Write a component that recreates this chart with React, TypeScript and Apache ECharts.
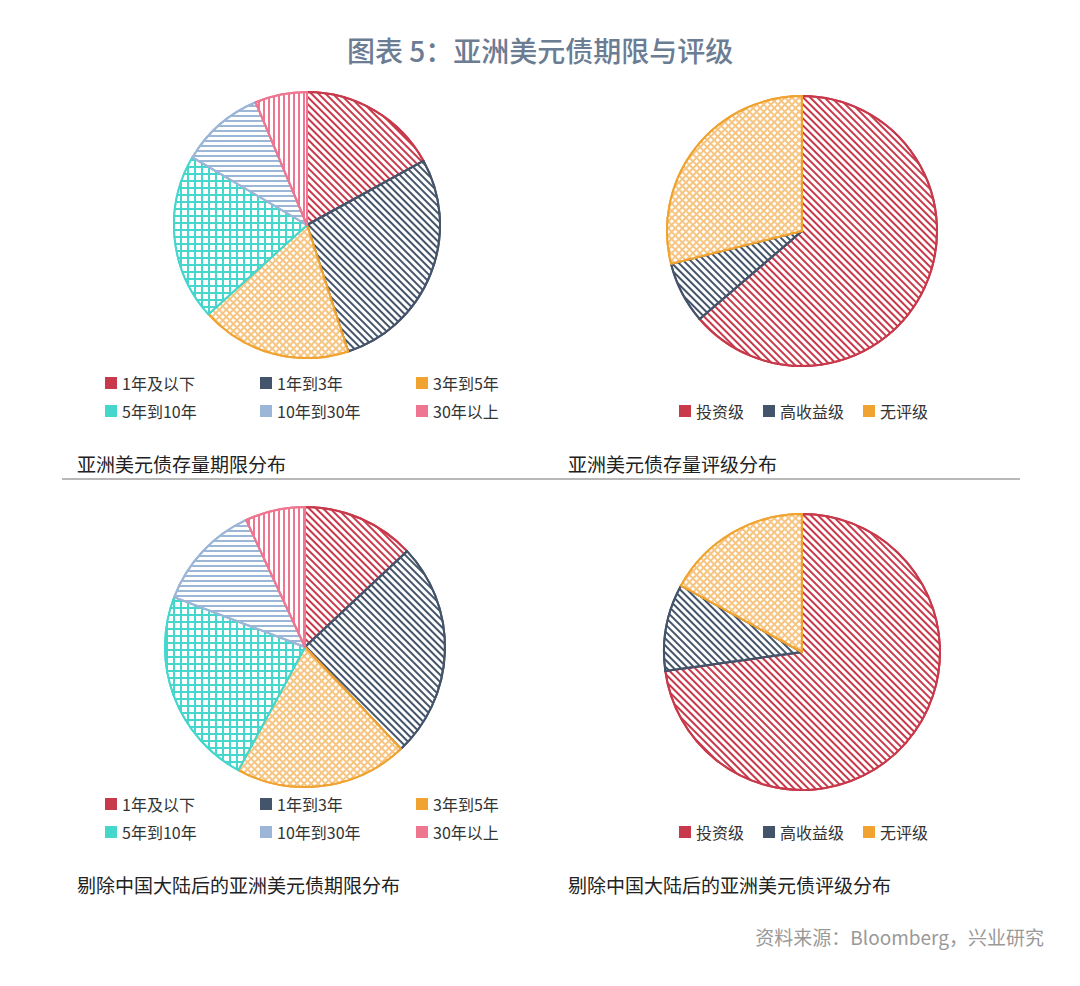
import React, { useEffect, useRef } from "react";
import * as echarts from "echarts";

const mainTitle = "图表 5：亚洲美元债期限与评级";
const maturityLabels = ["1年及以下", "1年到3年", "3年到5年", "5年到10年", "10年到30年", "30年以上"];
const maturityAll = [17.0, 28.0, 18.3, 20.2, 10.2, 6.3];
const maturityExChina = [13.0, 25.0, 19.9, 22.9, 12.3, 6.9];
const ratingLabels = ["投资级", "高收益级", "无评级"];
const ratingAll = [63.7, 7.4, 28.9];
const ratingExChina = [72.8, 10.2, 17.0];
const subTitles = [
  "亚洲美元债存量期限分布",
  "亚洲美元债存量评级分布",
  "剔除中国大陆后的亚洲美元债期限分布",
  "剔除中国大陆后的亚洲美元债评级分布",
];
const sourceText = "资料来源：Bloomberg，兴业研究";

const RED = "#c8394b";
const NAVY = "#44546a";
const ORANGE = "#f0a330";
const CYAN = "#45d6cc";
const LBLUE = "#9cb6d8";
const PINK = "#ef7690";

const FONT = "'Noto Sans CJK SC', 'Noto Sans', sans-serif";

function stripes(color: string, rotation: number, dy: number[]) {
  return {
    fill: "#ffffff",
    border: color,
    legend: color,
    decal: {
      symbol: "rect",
      symbolSize: 1,
      color,
      dashArrayX: [1, 0],
      dashArrayY: dy,
      rotation,
    },
  };
}
function grid(color: string, lineColor: string, rotation: number, cell: number[]) {
  return {
    fill: lineColor,
    border: color,
    legend: color,
    decal: {
      symbol: "rect",
      symbolSize: 1,
      color: "#ffffff",
      dashArrayX: cell,
      dashArrayY: cell,
      rotation,
    },
  };
}

const maturityStyles = [
  stripes(RED, Math.PI / 4, [1.6, 2.6]),
  stripes(NAVY, Math.PI / 4, [1.6, 2.6]),
  grid(ORANGE, "#f7c582", Math.PI / 4, [2.4, 1.1]),
  grid(CYAN, CYAN, 0, [5, 1.2]),
  stripes(LBLUE, 0, [1.2, 2.6]),
  stripes(PINK, Math.PI / 2, [1.4, 2.4]),
];
const ratingStyles = [maturityStyles[0], maturityStyles[1], maturityStyles[2]];

function pie(labels: string[], values: number[], styles: any[], center: number[], radius: number) {
  return {
    type: "pie",
    center,
    radius,
    startAngle: 90,
    clockwise: true,
    silent: true,
    label: { show: false },
    labelLine: { show: false },
    emphasis: { disabled: true },
    data: labels.map((name, i) => ({
      name,
      value: values[i],
      itemStyle: {
        color: styles[i].fill,
        borderColor: styles[i].border,
        borderWidth: 2,
        decal: styles[i].decal,
      },
    })),
  };
}

function legendItem(name: string, color: string, left: number, top: number) {
  return {
    left,
    top,
    padding: 0,
    orient: "horizontal",
    itemWidth: 12,
    itemHeight: 12,
    itemGap: 5,
    icon: "rect",
    selectedMode: false,
    textStyle: { fontSize: 16, color: "#333", fontFamily: FONT },
    data: [{ name, itemStyle: { color, borderWidth: 0, decal: "none" } }],
  };
}

const matCols = [105, 260, 416];
const ratCols = [679, 763, 863];

export default function App() {
  const ref = useRef<HTMLDivElement>(null);
  useEffect(() => {
    if (!ref.current) return;
    const chart = echarts.init(ref.current, null, { renderer: "svg" });
    const legends: any[] = [];
    [375, 796].forEach((top) => {
      maturityLabels.forEach((name, i) => {
        legends.push(legendItem(name, maturityStyles[i].legend, matCols[i % 3], top + (i >= 3 ? 28 : 0)));
      });
    });
    [403, 824].forEach((top) => {
      ratingLabels.forEach((name, i) => {
        legends.push(legendItem(name, ratingStyles[i].legend, ratCols[i], top));
      });
    });
    chart.setOption({
      animation: false,
      backgroundColor: "#ffffff",
      title: {
        text: mainTitle,
        left: "center",
        top: 31,
        textStyle: { fontSize: 28, fontWeight: 500, color: "#6b7c93", fontFamily: FONT },
      },
      legend: legends,
      series: [
        pie(maturityLabels, maturityAll, maturityStyles, [307, 225], 133),
        pie(ratingLabels, ratingAll, ratingStyles, [802, 231], 135),
        pie(maturityLabels, maturityExChina, maturityStyles, [305, 647], 140),
        pie(ratingLabels, ratingExChina, ratingStyles, [802, 652], 138),
      ],
      graphic: [
        {
          type: "line",
          shape: { x1: 62, y1: 479, x2: 1020, y2: 479 },
          style: { stroke: "#a0a0a0", lineWidth: 1.5 },
        },
        ...subTitles.map((t, i) => ({
          type: "text",
          x: i % 2 === 0 ? 77 : 568,
          y: i < 2 ? 463 : 884,
          style: {
            text: t,
            fontSize: 19,
            fill: "#222",
            fontFamily: FONT,
            verticalAlign: "middle",
          },
        })),
        {
          type: "text",
          x: 1044,
          y: 936,
          style: {
            text: sourceText,
            fontSize: 19,
            fill: "#999",
            fontFamily: FONT,
            align: "right",
            verticalAlign: "middle",
          },
        },
      ],
    });
    return () => chart.dispose();
  }, []);
  return <div ref={ref} style={{ position: "absolute", left: 0, top: 0, width: 1080, height: 986 }} />;
}
